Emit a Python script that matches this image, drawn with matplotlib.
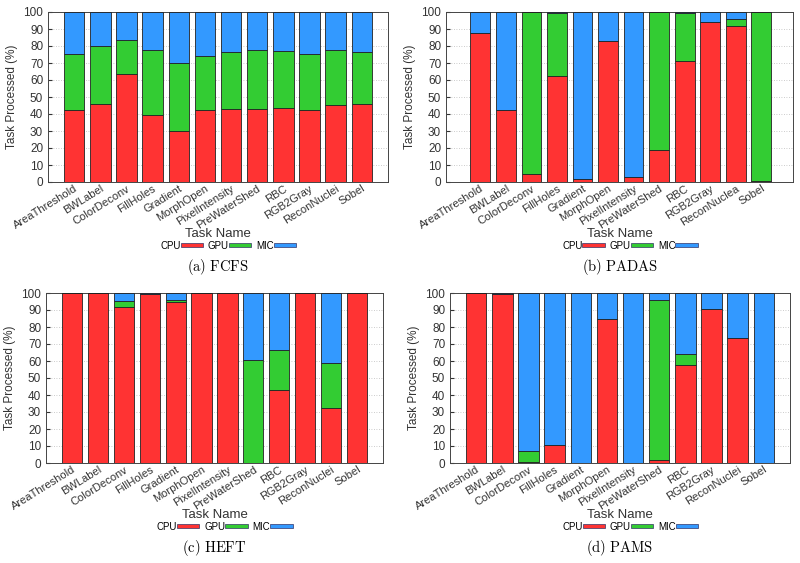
import matplotlib
matplotlib.use("Agg")
import matplotlib.pyplot as plt
from matplotlib.patches import Patch
import numpy as np

plt.rcParams['mathtext.fontset'] = 'cm'
plt.rcParams['font.family'] = ['Liberation Sans', 'DejaVu Sans']

tasks = ["AreaThreshold", "BWLabel", "ColorDeconv", "FillHoles", "Gradient",
         "MorphOpen", "PixelIntensity", "PreWaterShed", "RBC", "RGB2Gray",
         "ReconNuclei", "Sobel"]
tasks_b = tasks[:10] + ["ReconNuclea", "Sobel"]

# FCFS
fcfs_cpu = [42.5, 46.0, 63.7, 39.6, 30.0, 42.5, 43.1, 42.7, 43.5, 42.5, 45.1, 45.7]
fcfs_gpu = [33.0, 34.0, 20.0, 38.0, 40.2, 31.6, 33.4, 35.1, 33.4, 33.0, 32.4, 30.8]
fcfs_mic = [24.5, 20.0, 16.3, 22.4, 29.8, 25.9, 23.5, 22.2, 23.1, 24.5, 22.5, 23.5]

# PADAS
padas_cpu = [87.5, 42.2, 4.9, 62.5, 2.0, 82.8, 3.1, 18.6, 70.9, 94.3, 92.0, 0.5]
padas_gpu = [0.3, 0.0, 95.1, 37.0, 0.0, 0.0, 0.0, 81.4, 28.6, 0.0, 3.9, 99.5]
padas_mic = [12.2, 57.8, 0.0, 0.5, 98.0, 17.2, 96.9, 0.0, 0.5, 5.7, 4.1, 0.0]

# HEFT
heft_cpu = [100.0, 100.0, 91.6, 99.3, 94.7, 99.8, 99.8, 0.0, 42.7, 100.0, 32.4, 99.8]
heft_gpu = [0.0, 0.0, 3.5, 0.3, 1.3, 0.1, 0.1, 60.8, 23.6, 0.0, 26.2, 0.1]
heft_mic = [0.0, 0.0, 4.9, 0.4, 4.0, 0.1, 0.1, 39.2, 33.7, 0.0, 41.4, 0.1]

# PAMS
pams_cpu = [100.0, 99.2, 0.5, 10.7, 0.0, 85.0, 0.0, 2.0, 57.4, 90.6, 73.6, 0.0]
pams_gpu = [0.0, 0.0, 6.3, 0.0, 0.0, 0.0, 0.0, 93.9, 6.5, 0.0, 0.0, 0.0]
pams_mic = [0.0, 0.8, 93.2, 89.3, 100.0, 15.0, 100.0, 4.1, 36.1, 9.4, 26.4, 100.0]

yticks = [0, 10, 20, 30, 40, 50, 60, 70, 80, 90, 100]
series_names = ["CPU", "GPU", "MIC"]
colors = ["#ff3333", "#33cc33", "#3399ff"]
captions = [r"$\mathrm{(a)\ FCFS}$", r"$\mathrm{(b)\ PADAS}$",
            r"$\mathrm{(c)\ HEFT}$", r"$\mathrm{(d)\ PAMS}$"]

W, H = 800, 563
fig = plt.figure(figsize=(8, 5.63), dpi=100)

panels = [
    (tasks, fcfs_cpu, fcfs_gpu, fcfs_mic, (48, 388, 12, 182), (-1.0, 12.0)),
    (tasks_b, padas_cpu, padas_gpu, padas_mic, (446, 793, 12, 182), (-1.35, 12.25)),
    (tasks, heft_cpu, heft_gpu, heft_mic, (46, 383, 293, 463), (-1.0, 12.0)),
    (tasks, pams_cpu, pams_gpu, pams_mic, (450, 790, 293, 463), (-1.0, 12.0)),
]

for i, (labels, cpu, gpu, mic, (l, r, t, b), xl) in enumerate(panels):
    ax = fig.add_axes([l / W, (H - b) / H, (r - l) / W, (b - t) / H])
    x = np.arange(len(labels))
    cpu = np.array(cpu); gpu = np.array(gpu); mic = np.array(mic)
    kw = dict(width=0.78, edgecolor="#222222", linewidth=0.6, zorder=3)
    ax.bar(x, cpu, color=colors[0], **kw)
    ax.bar(x, gpu, bottom=cpu, color=colors[1], **kw)
    ax.bar(x, mic, bottom=cpu + gpu, color=colors[2], **kw)
    ax.set_xlim(*xl)
    ax.set_ylim(0, 100)
    ax.set_yticks(yticks)
    ax.set_xticks(x)
    ax.set_xticklabels(labels, rotation=32, ha="right", va="top",
                       rotation_mode="anchor", fontsize=8, color="#333333")
    ax.tick_params(axis="y", labelsize=8.5, colors="#333333", direction="in", length=3)
    ax.tick_params(axis="x", direction="in", length=0, pad=1)
    ax.yaxis.grid(True, linestyle=(0, (1, 2)), color="#bbbbbb", linewidth=0.6, zorder=0)
    for s in ax.spines.values():
        s.set_color("#444444")
        s.set_linewidth(0.7)
    ax.set_ylabel("Task Processed (%)", fontsize=8.5, color="#333333", labelpad=4)
    ax.set_xlabel("Task Name", fontsize=9.5, color="#333333")
    ax.xaxis.set_label_coords(0.5, -0.27)
    handles = [Patch(facecolor=c, edgecolor="#333366", linewidth=0.5) for c in colors]
    ax.legend(handles, series_names, loc="center", bbox_to_anchor=(0.53, -0.375),
              ncol=3, frameon=False, markerfirst=False, fontsize=7,
              handlelength=2.3, handleheight=0.3, handletextpad=0.0,
              columnspacing=0.5, borderaxespad=0)
    fig.text((l + r) / 2 / W, 1 - (b + 85) / H, captions[i], ha="center", va="center",
             fontsize=10.5)

fig.savefig("out.png", dpi=100)
